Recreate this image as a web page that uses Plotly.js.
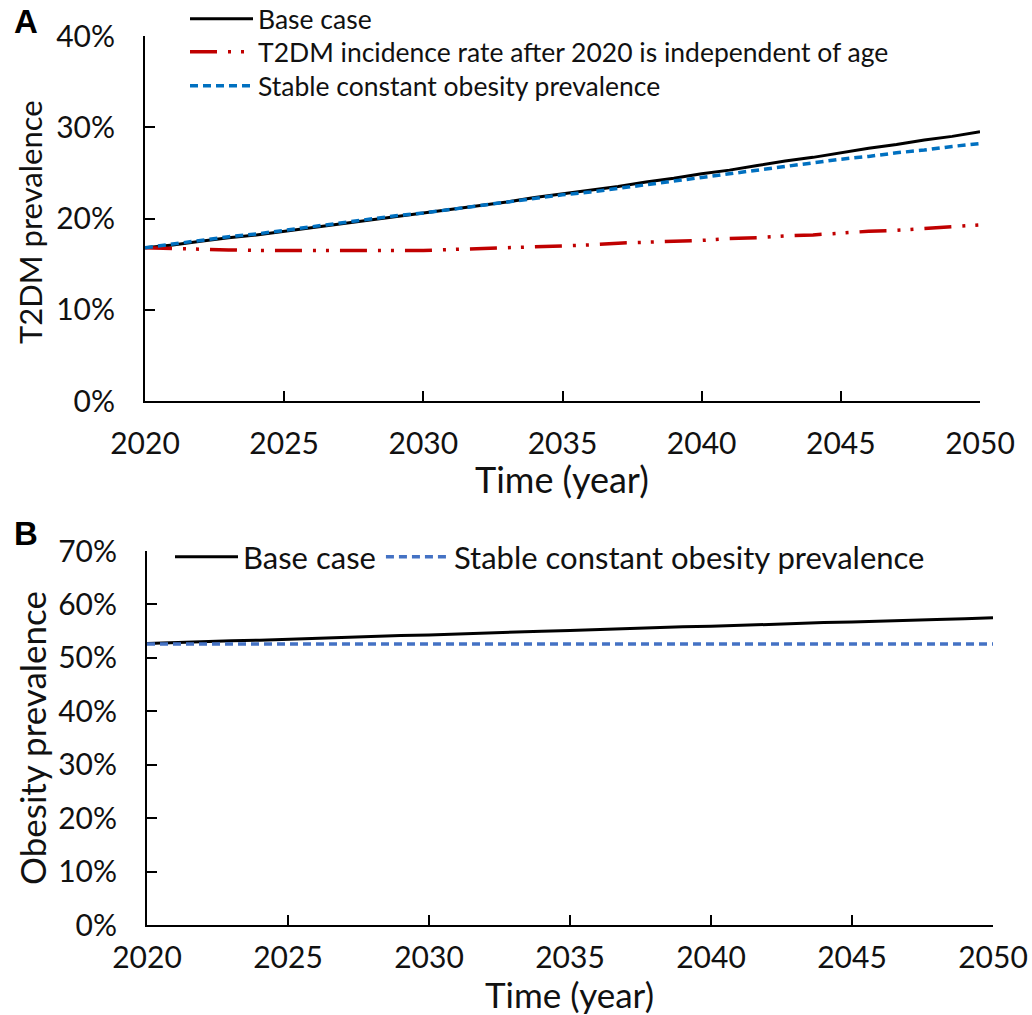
<!DOCTYPE html>
<html>
<head>
<meta charset="utf-8">
<script src="https://cdn.plot.ly/plotly-3.0.1.min.js"></script>
<style>
  html, body { margin: 0; padding: 0; background: #fff; }
  #chart { width: 1032px; height: 1015px; }
</style>
</head>
<body>
<div id="chart"></div>
<script>
// Years simulated (one point per year)
const years = [2020,2021,2022,2023,2024,2025,2026,2027,2028,2029,2030,
               2031,2032,2033,2034,2035,2036,2037,2038,2039,2040,
               2041,2042,2043,2044,2045,2046,2047,2048,2049,2050];

// Panel A: T2DM prevalence (%)
const t2dmBase = [16.8,17.1,17.5,17.9,18.2,18.6,19.0,19.4,19.8,20.2,20.6,
                  21.0,21.4,21.8,22.3,22.7,23.1,23.5,24.0,24.4,24.9,
                  25.3,25.8,26.3,26.7,27.2,27.7,28.1,28.6,29.0,29.5];
const t2dmAgeIndependent = [16.8,16.7,16.6,16.55,16.5,16.5,16.5,16.5,16.5,16.5,16.5,
                            16.6,16.7,16.8,16.9,17.0,17.1,17.3,17.4,17.5,17.6,
                            17.8,17.9,18.1,18.2,18.4,18.6,18.7,18.9,19.1,19.3];
const t2dmStableObesity = [16.8,17.2,17.6,18.0,18.3,18.7,19.1,19.5,19.9,20.3,20.6,
                           21.0,21.4,21.8,22.2,22.6,22.9,23.3,23.7,24.1,24.5,
                           24.9,25.3,25.7,26.1,26.5,26.8,27.2,27.5,27.9,28.2];

// Panel B: obesity prevalence (%)
const obesityBase = [52.7,52.9,53.0,53.2,53.3,53.5,53.7,53.8,54.0,54.2,54.3,
                     54.5,54.7,54.8,55.0,55.1,55.3,55.5,55.6,55.8,55.9,
                     56.1,56.3,56.4,56.6,56.7,56.9,57.0,57.2,57.3,57.5];
const obesityStable = years.map(() => 52.6);

// Labels
const seriesNames = {
  base: 'Base case',
  ageIndependent: 'T2DM incidence rate after 2020 is independent of age',
  stable: 'Stable constant obesity prevalence'
};
const xTicks = [2020,2025,2030,2035,2040,2045,2050];
const yTicksA = [0,10,20,30,40];
const yTicksB = [0,10,20,30,40,50,60,70];
const xTitle = 'Time (year)';
const yTitleA = 'T2DM prevalence';
const yTitleB = 'Obesity prevalence';

const FONT = 'Lato, "Open Sans", sans-serif';
const TXT = '#111111';
const W = 1032, H = 1015;
const px = v => v / W;          // horizontal pixel -> paper fraction
const py = v => 1 - v / H;      // vertical pixel (from top) -> paper fraction

const traces = [
  { x: years, y: t2dmBase, name: seriesNames.base, mode: 'lines',
    line: { color: '#000000', width: 3 }, xaxis: 'x', yaxis: 'y', legend: 'legend' },
  { x: years, y: t2dmAgeIndependent, name: seriesNames.ageIndependent, mode: 'lines',
    line: { color: '#C00000', width: 3.5, dash: '27px,11px,3px,10px,3px,11px' },
    xaxis: 'x', yaxis: 'y', legend: 'legend3' },
  { x: years, y: t2dmStableObesity, name: seriesNames.stable, mode: 'lines',
    line: { color: '#0070C0', width: 3.5, dash: '8px,5px' }, xaxis: 'x', yaxis: 'y', legend: 'legend4' },
  { x: years, y: obesityBase, name: seriesNames.base, mode: 'lines',
    line: { color: '#000000', width: 3 }, xaxis: 'x2', yaxis: 'y2', legend: 'legend2' },
  { x: years, y: obesityStable, name: seriesNames.stable, mode: 'lines',
    line: { color: '#4472C4', width: 3.5, dash: '8px,5px' }, xaxis: 'x2', yaxis: 'y2', legend: 'legend2' }
];

function xAxis(domain, anchor, labelGap) {
  return {
    domain: domain, anchor: anchor, range: [2020, 2050],
    tickvals: xTicks, ticktext: xTicks.map(String),
    ticks: 'inside', ticklen: 10, tickwidth: 2, tickcolor: '#000',
    showline: true, linecolor: '#000', linewidth: 2, showgrid: false, zeroline: false,
    ticklabelstandoff: labelGap,
    tickfont: { family: FONT, size: 30, color: TXT }
  };
}
function yAxis(domain, anchor, max, vals) {
  return {
    domain: domain, anchor: anchor, range: [0, max],
    tickvals: vals, ticktext: vals.map(v => v + '%'),
    ticks: 'inside', ticklen: 10, tickwidth: 2, tickcolor: '#000',
    showline: true, linecolor: '#000', linewidth: 2, showgrid: false, zeroline: false,
    ticklabelstandoff: 22,
    tickfont: { family: FONT, size: 30, color: TXT }
  };
}
function legendRow(xPix, yPix, size, orientation) {
  return {
    x: px(xPix), y: py(yPix), xanchor: 'left', yanchor: 'middle',
    orientation: orientation, bgcolor: 'rgba(0,0,0,0)', itemwidth: 63,
    font: { family: FONT, size: size, color: TXT }, tracegroupgap: 0
  };
}
function label(text, xPix, yPix, size, angle, family) {
  return {
    text: text, x: px(xPix), y: py(yPix), xref: 'paper', yref: 'paper',
    xanchor: 'center', yanchor: 'middle', showarrow: false, textangle: angle || 0,
    font: { family: family || FONT, size: size, color: family ? '#000' : TXT }
  };
}
const PANEL_FONT = 'Liberation Sans, Arial, sans-serif';

const layout = {
  width: W, height: H,
  margin: { l: 0, r: 0, t: 0, b: 0, autoexpand: false },
  paper_bgcolor: '#fff', plot_bgcolor: '#fff',
  font: { family: FONT, color: TXT },
  xaxis: xAxis([px(145), px(980)], 'y', 15),
  yaxis: yAxis([py(401), py(36)], 'x', 40, yTicksA),
  xaxis2: xAxis([px(147), px(993)], 'y2', 5),
  yaxis2: yAxis([py(925), py(551)], 'x2', 70, yTicksB),
  legend: legendRow(185, 19, 26.5, 'v'),
  legend3: legendRow(185, 52, 26.5, 'v'),
  legend4: legendRow(185, 86, 26.5, 'v'),
  legend2: legendRow(170, 557, 31, 'h'),
  annotations: [
    label(xTitle, 562, 479, 36),
    label(xTitle, 569, 994, 35),
    label(yTitleA, 30, 222, 31, -90),
    label(yTitleB, 32, 738, 35, -90),
    label('<b>A</b>', 26, 21, 33, 0, PANEL_FONT),
    label('<b>B</b>', 26, 533, 33, 0, PANEL_FONT)
  ],
  showlegend: true
};

Plotly.newPlot('chart', traces, layout, { staticPlot: true, displayModeBar: false });
</script>
</body>
</html>
